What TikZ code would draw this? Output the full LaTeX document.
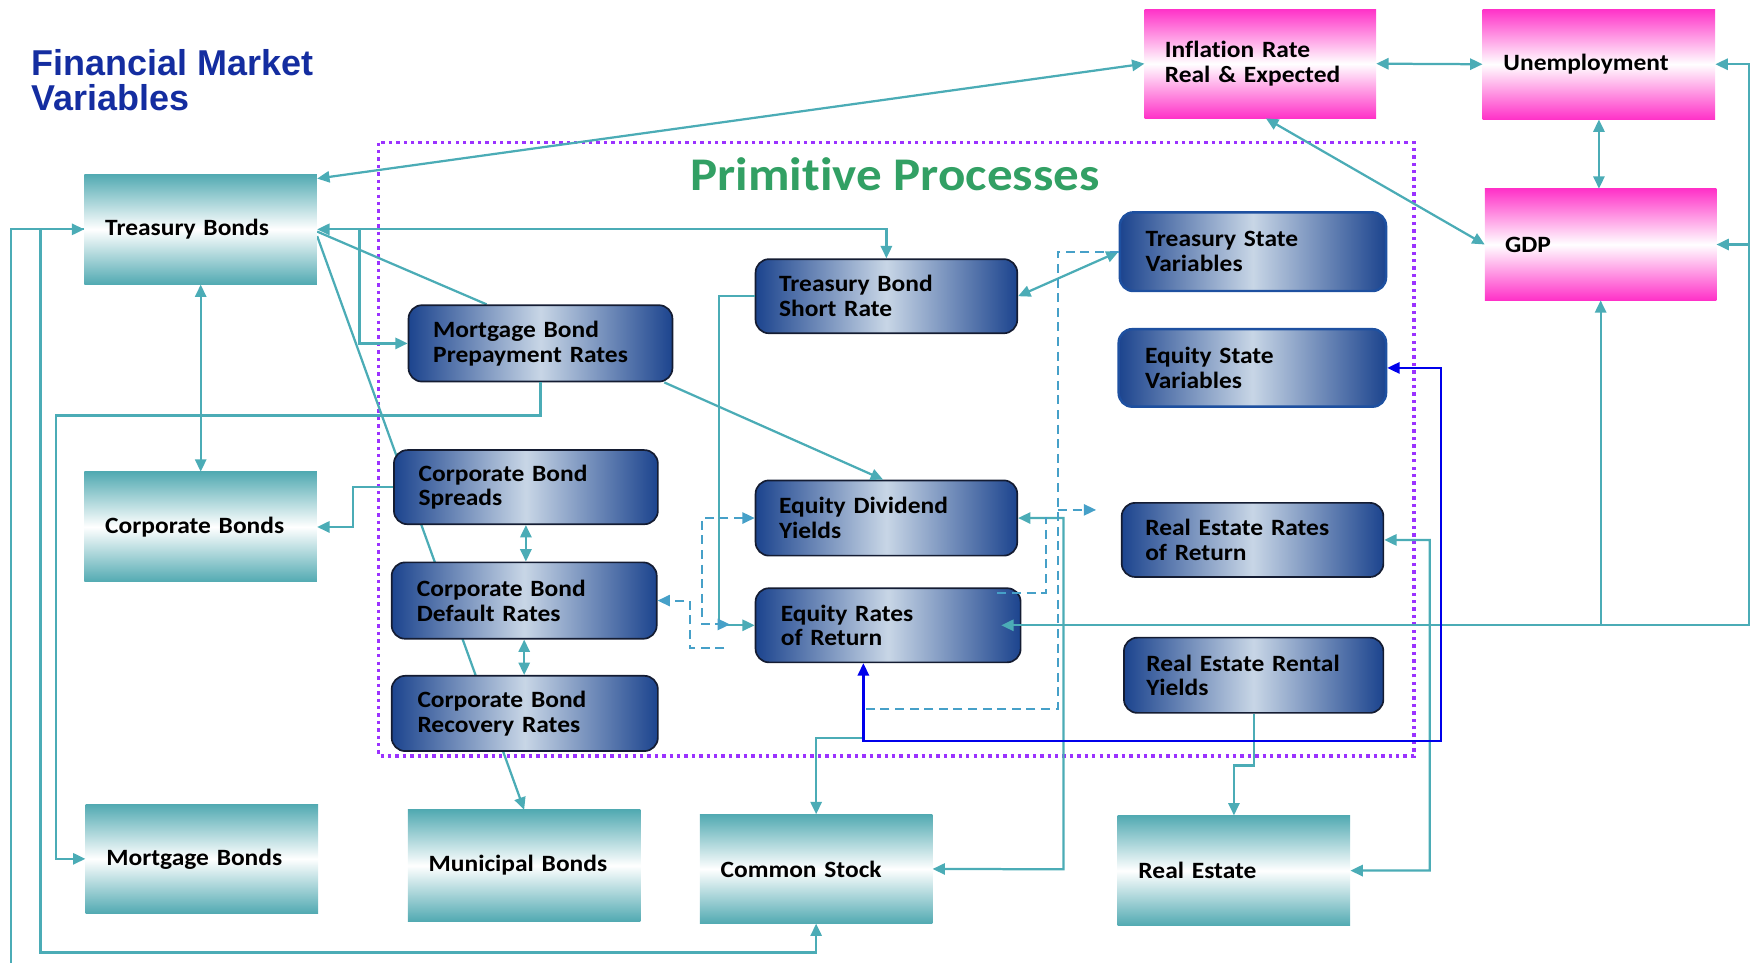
\documentclass[tikz,border=0pt]{standalone}
\usepackage{fontspec}
\setmainfont{Carlito}[FakeStretch=1.09, Ligatures=NoCommon]
\newfontfamily\arialfont{Liberation Sans}
\usetikzlibrary{arrows.meta}
\definecolor{tealc}{RGB}{82,170,178}
\definecolor{linec}{RGB}{75,172,182}
\definecolor{dashc}{RGB}{70,160,200}
\definecolor{pinkc}{RGB}{255,50,200}
\definecolor{bdark}{RGB}{28,68,142}
\definecolor{blight}{RGB}{200,214,230}
\definecolor{bnavy}{RGB}{20,28,50}
\definecolor{bstate}{RGB}{30,80,160}
\definecolor{bline}{RGB}{0,0,235}
\definecolor{framec}{RGB}{155,50,255}
\definecolor{titlec}{RGB}{20,45,160}
\definecolor{greenc}{RGB}{50,160,100}
\pgfdeclarelayer{bg}
\pgfsetlayers{bg,main}
\begin{document}
\begin{tikzpicture}[x=1pt,y=-1pt,
  >={Triangle[length=11pt,width=10pt]},
  tl/.style={draw=linec, line width=2pt},
  ds/.style={draw=dashc, line width=1.8pt, dash pattern=on 8pt off 5pt},
  bl/.style={draw=bline, line width=2pt},
  sz/.style 2 args={minimum width=#1pt, minimum height=#2pt},
  tealbox/.style={anchor=north west, top color=tealc, bottom color=tealc, middle color=white,
    inner xsep=18pt, inner ysep=0pt, text width=170pt, align=left,
    font=\bfseries\fontsize{20.8}{22}\selectfont},
  pinkbox/.style={tealbox, top color=pinkc, bottom color=pinkc, middle color=white},
  bluebox/.style={anchor=north west, draw=bnavy, line width=1.5pt, rounded corners=12pt,
    left color=bdark, right color=bdark, middle color=blight,
    inner xsep=20pt, inner ysep=0pt, text width=191pt, align=left,
    font=\bfseries\fontsize{20.8}{22}\selectfont},
  statebox/.style={bluebox, draw=bstate, line width=2.2pt},
  frame/.style={draw=framec, line width=3pt, dash pattern=on 3pt off 3.6pt}
]
\useasboundingbox (0,0) rectangle (1568,857);

% titles
\node[anchor=north west, inner sep=0pt, align=left, text=titlec,
  font=\arialfont\bfseries\fontsize{32}{31}\selectfont] (title) at (28,44) {Financial Market\\Variables};
\node[anchor=base, inner sep=0pt, text=greenc,
  font=\bfseries\fontsize{41.7}{42}\selectfont] (pp) at (797,170) {Primitive Processes};

% market boxes
\node[tealbox, sz={207}{98}] (tb) at (75,155) {Treasury Bonds};
\node[tealbox, sz={207}{98}] (cb) at (75,420) {Corporate Bonds};
\node[tealbox, sz={207}{97}] (mb) at (76,716) {Mortgage Bonds};
\node[tealbox, sz={207}{99}] (mub) at (363,721) {Municipal Bonds};
\node[tealbox, sz={207}{97}] (cs) at (623,725) {Common Stock};
\node[tealbox, sz={207}{98}] (re) at (995,726) {Real Estate};

% macro boxes
\node[pinkbox, sz={206}{97}] (infl) at (1019,8) {Inflation Rate\\Real \& Expected};
\node[pinkbox, sz={207}{98}] (unemp) at (1320,8) {Unemployment};
\node[pinkbox, sz={206}{99}] (gdp) at (1322,168) {GDP};

% primitive processes
\node[bluebox, sz={235}{68}] (mbpr) at (363,271) {Mortgage Bond\\Prepayment Rates};
\node[bluebox, sz={233}{66}] (tbsr) at (672,230) {Treasury Bond\\Short Rate};
\node[statebox, sz={237}{70}] (tsv) at (996,188) {Treasury State\\Variables};
\node[statebox, sz={238}{69}] (esv) at (995,292) {Equity State\\Variables};
\node[bluebox, sz={235}{66}] (cbs) at (350,400) {Corporate Bond\\Spreads};
\node[bluebox, sz={233}{67}] (edy) at (672,427) {Equity Dividend\\Yields};
\node[bluebox, sz={233}{66}] (rerr) at (998,447) {Real Estate Rates\\of Return};
\node[bluebox, sz={236}{68}] (cbdr) at (348,500) {Corporate Bond\\Default Rates};
\node[bluebox, sz={236}{66}] (err) at (672,523) {Equity Rates\\of Return};
\node[bluebox, sz={231}{67}] (rery) at (1000,567) {Real Estate Rental\\Yields};
\node[bluebox, sz={237}{67}] (cbrr) at (348,601) {Corporate Bond\\Recovery Rates};

% junction coordinates
\coordinate (rb) at (1557,556);
\coordinate (j2) at (320,204);
\coordinate (j3) at (50,370);
\coordinate (j4) at (36,848);
\coordinate (j5) at (10,857);
\coordinate (j6) at (942,631);
\coordinate (j7) at (768,631);
\coordinate (j8) at (942,454);
\coordinate (j9) at (976,454);
\coordinate (j10) at (888,528);
\coordinate (j11) at (931,460);
\coordinate (j13) at (947,774);
\coordinate (j14) at (625,556);
\coordinate (j15) at (650,556);
\coordinate (j16) at (645,577);
\coordinate (j17) at (614,577);
\coordinate (j18) at (1283,660);
\coordinate (j19) at (768,657);
\coordinate (j20) at (1273,775);

% background items
\begin{pgfonlayer}{bg}
\draw[frame] (337,127) rectangle (1259,673);
\draw[tl,->] ([yshift=-6pt]tb.east) -- (mub.north);
\draw[tl] ([xshift=-48pt]mbpr.north) -- ([yshift=-2pt]tb.east);
\end{pgfonlayer}

% macro links
\draw[tl,<->] ([yshift=-4pt]tb.north east) -- (infl.west);
\draw[tl,<->] (infl.east) -- (unemp.west);
\draw[tl,<->] (unemp.south) -- (unemp.south |- gdp.north);
\draw[tl,<->] ([xshift=5pt]infl.south) -- (gdp.west);
\draw[tl,<->] ([xshift=-18pt]err.east) -- (err.east -| rb) -- (rb |- unemp.east) -- (unemp.east);
\draw[tl,->] (rb |- gdp.east) -- (gdp.east);
\draw[tl,->] (gdp.south |- err.east) -- (gdp.south);

% treasury links
\draw[tl,<->] (tb.east) -- (tb.east -| tbsr.north) -- (tbsr.north);
\draw[tl,->] (j2) |- (mbpr.west);
\draw[tl,<->] (tb.south) -- (cb.north);
\draw[tl,->] (cbs.west) -- ++(-36,0) |- (cb.east);
\draw[tl,->] (mbpr.south) |- (j3) |- (mb.west);
\draw[tl,<->] (tb.west) -| (j4) -| (cs.south);
\draw[tl] (j5) |- (tb.west);

% inner links
\draw[tl,->] (tbsr.west) -- ++(-32,0) |- (err.west);
\draw[tl,->] ([xshift=-8pt]mbpr.south east) -- ([xshift=-3pt]edy.north);
\draw[tl,<->] (tbsr.east) -- (tsv.west);
\draw[tl,<->] (edy.east) -| (j13) -- (cs.east);
\draw[tl,<->] (cbs.south) -- (cbs.south |- cbdr.north);
\draw[tl,<->] (cbdr.south) -- (cbdr.south |- cbrr.north);
\draw[tl,->] (j19) -| (cs.north);
\draw[tl,->] (rery.south) -- ++(0,46) -| (re.north);
\draw[tl,<->] (rerr.east) -| (j20) -- (re.east);

% dashed links
\draw[ds] (tsv.west) -| (j6) -- (j7);
\draw[ds,->] (j8) -- (j9);
\draw[ds] (j10) -| (j11);
\draw[ds,<->] (edy.west) -| (j14) -- (j15);
\draw[ds,->] (j16) -- (j17) |- (cbdr.east);

% blue link
\draw[bl,<->] ([xshift=-22pt]err.south) |- (j18) |- (esv.east);
\end{tikzpicture}
\end{document}
